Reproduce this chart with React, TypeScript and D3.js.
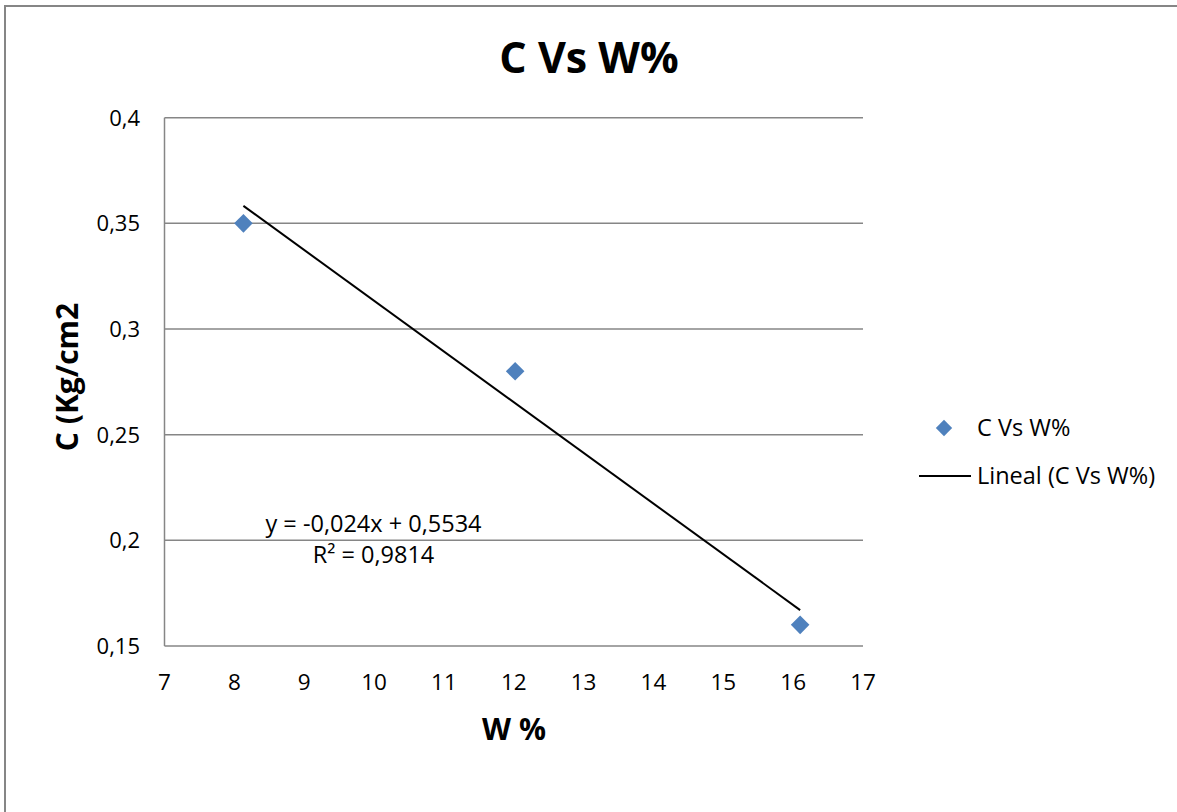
import React from "react";
import * as d3 from "d3";

const W = 1177;
const H = 812;

const xValues = [8.13, 12.02, 16.1];
const yValues = [0.35, 0.28, 0.16];
const xTicks = [7, 8, 9, 10, 11, 12, 13, 14, 15, 16, 17];
const yTicks = [0.15, 0.2, 0.25, 0.3, 0.35, 0.4];
const trendSlope = -0.024;
const trendIntercept = 0.5534;
const trendLabel = "y = -0,024x + 0,5534";
const r2Label = "R² = 0,9814";
const chartTitle = "C Vs W%";
const xTitle = "W %";
const yTitle = "C (Kg/cm2";
const seriesName = "C Vs W%";
const trendName = "Lineal (C Vs W%)";

const FONT = "'Open Sans', 'Liberation Sans', sans-serif";
const GRID = "#868686";
const BLUE = "#4F81BD";

export default function App() {
  const x = d3.scaleLinear().domain([7, 17]).range([164.5, 863]);
  const y = d3.scaleLinear().domain([0.15, 0.4]).range([646, 117.7]);
  const fmt = (v: number) => String(+v.toFixed(2)).replace(".", ",");
  const x0 = d3.min(xValues)!;
  const x1 = d3.max(xValues)!;
  const trend = d3
    .line<number>()
    .x((d) => x(d))
    .y((d) => y(trendSlope * d + trendIntercept))([x0, x1]);
  const diamond = d3.symbol().type(d3.symbolDiamond2).size(220)();

  return (
    <svg
      width={W}
      height={H}
      style={{ position: "absolute", left: 0, top: 0, display: "block", background: "#fff" }}
      fontFamily={FONT}
    >
      <rect x={5} y={6} width={W + 20} height={H + 20} fill="#fff" stroke={GRID} strokeWidth={2} />
      <text x={589} y={73} textAnchor="middle" fontSize={43} fontWeight="bold" fill="#000">
        {chartTitle}
      </text>
      {yTicks.map((t) => (
        <line
          key={"g" + t}
          x1={x(7)}
          x2={x(17)}
          y1={y(t)}
          y2={y(t)}
          stroke={GRID}
          strokeWidth={1.5}
        />
      ))}
      <line x1={x(7)} x2={x(7)} y1={y(0.4)} y2={y(0.15)} stroke={GRID} strokeWidth={1.5} />
      {yTicks.map((t) => (
        <text
          key={"yl" + t}
          x={140}
          y={y(t)}
          dy="0.36em"
          textAnchor="end"
          fontSize={22}
          fill="#000"
        >
          {fmt(t)}
        </text>
      ))}
      {xTicks.map((t) => (
        <text key={"xl" + t} x={x(t)} y={690} textAnchor="middle" fontSize={22.5} fill="#000">
          {fmt(t)}
        </text>
      ))}
      <text x={514} y={740} textAnchor="middle" fontSize={30} fontWeight="bold" fill="#000">
        {xTitle}
      </text>
      <text
        transform={`translate(78,377) rotate(-90)`}
        textAnchor="middle"
        fontSize={30}
        fontWeight="bold"
        fill="#000"
      >
        {yTitle}
      </text>
      <path d={trend ?? ""} stroke="#000" strokeWidth={2} fill="none" />
      {xValues.map((v, i) => (
        <path
          key={"p" + i}
          d={diamond ?? ""}
          transform={`translate(${x(v)},${y(yValues[i])})`}
          fill={BLUE}
        />
      ))}
      <text x={373.5} y={532} textAnchor="middle" fontSize={23.5} fill="#000">
        {trendLabel}
      </text>
      <text x={373.5} y={563} textAnchor="middle" fontSize={23.5} fill="#000">
        {r2Label}
      </text>
      <path d={d3.symbol().type(d3.symbolDiamond2).size(170)() ?? ""} transform="translate(944,428)" fill={BLUE} />
      <text x={977} y={436} fontSize={23.5} fill="#000">
        {seriesName}
      </text>
      <line x1={919} x2={971} y1={476} y2={476} stroke="#000" strokeWidth={2} />
      <text x={977} y={484} fontSize={23.5} fill="#000">
        {trendName}
      </text>
    </svg>
  );
}
